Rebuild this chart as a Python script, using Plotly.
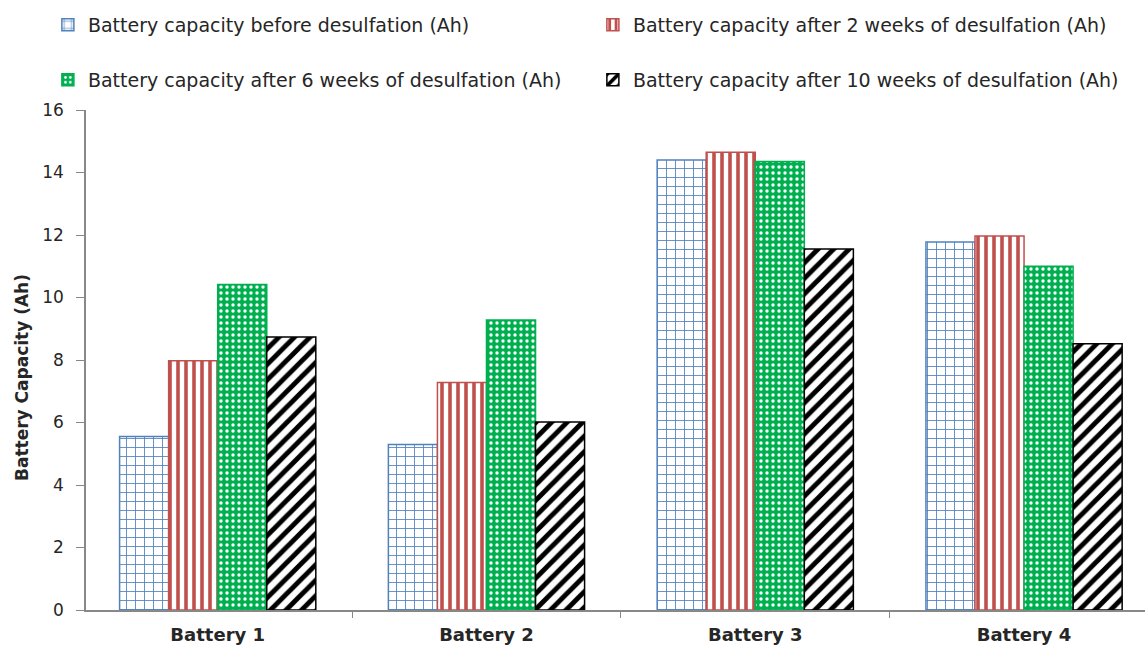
import plotly.graph_objects as go

# Battery capacity measurements (Ah)
batteries = ["Battery 1", "Battery 2", "Battery 3", "Battery 4"]
before = [5.55, 5.30, 14.40, 11.78]
after_2w = [7.98, 7.28, 14.65, 11.97]
after_6w = [10.42, 9.28, 14.35, 11.00]
after_10w = [8.74, 6.02, 11.55, 8.52]

names = [
    "Battery capacity before desulfation (Ah)",
    "Battery capacity after 2 weeks of desulfation (Ah)",
    "Battery capacity after 6 weeks of desulfation (Ah)",
    "Battery capacity after 10 weeks of desulfation (Ah)",
]

FONT = "DejaVu Sans, Verdana, sans-serif"
TEXT = "#262626"

styles = [
    dict(line="#4f81bd", pattern=dict(shape="+", fgcolor="#4f81bd", bgcolor="white",
                                      size=9, solidity=0.18, fillmode="replace")),
    dict(line="#c0504d", pattern=dict(shape="|", fgcolor="#c0504d", bgcolor="white",
                                      size=8, solidity=0.45, fillmode="replace")),
    dict(line="#00b050", pattern=dict(shape=".", fgcolor="white", bgcolor="#00b050",
                                      size=6, solidity=0.25, fillmode="replace")),
    dict(line="#000000", pattern=dict(shape="/", fgcolor="black", bgcolor="white",
                                      size=11, solidity=0.45, fillmode="replace")),
]

series = [before, after_2w, after_6w, after_10w]
legends = ["legend", "legend", "legend2", "legend2"]

fig = go.Figure()
for name, vals, st, lg in zip(names, series, styles, legends):
    fig.add_trace(go.Bar(
        x=batteries, y=vals, name=name, legend=lg,
        marker=dict(color="white", pattern=st["pattern"],
                    line=dict(color=st["line"], width=1.5)),
    ))

legend_common = dict(
    orientation="h", xanchor="left", yanchor="middle",
    font=dict(family=FONT, size=19, color=TEXT),
    entrywidth=500, entrywidthmode="pixels",
    bgcolor="rgba(0,0,0,0)", itemclick=False,
)

fig.update_layout(
    width=1145, height=646,
    margin=dict(l=86, r=0, t=110, b=36),
    paper_bgcolor="white", plot_bgcolor="white",
    barmode="group", bargap=0.27, bargroupgap=0,
    font=dict(family=FONT, size=17, color=TEXT),
    legend=dict(x=-0.036, y=1.17, **legend_common),
    legend2=dict(x=-0.036, y=1.06, **legend_common),
    xaxis=dict(
        range=[-0.49, 3.45], showline=True, linecolor="#888888", linewidth=1.5,
        ticks="outside", tickson="boundaries", ticklen=6, tickcolor="#888888",
        tickfont=dict(family=FONT, size=18, color=TEXT, weight="bold"),
        ticklabelstandoff=8, showgrid=False,
    ),
    yaxis=dict(
        range=[0, 16], dtick=2, showline=True, linecolor="#888888", linewidth=1.5,
        ticks="outside", ticklen=8, tickcolor="#888888", showgrid=False,
        zeroline=False, ticklabelstandoff=9,
        tickfont=dict(family=FONT, size=17, color=TEXT),
    ),
    annotations=[dict(
        text="<b>Battery Capacity (Ah)</b>", textangle=-90,
        xref="paper", yref="paper", x=-0.0604, y=0.464,
        xanchor="center", yanchor="middle", showarrow=False,
        font=dict(family=FONT, size=17, color=TEXT),
    )],
)

fig.write_html("out.html")
